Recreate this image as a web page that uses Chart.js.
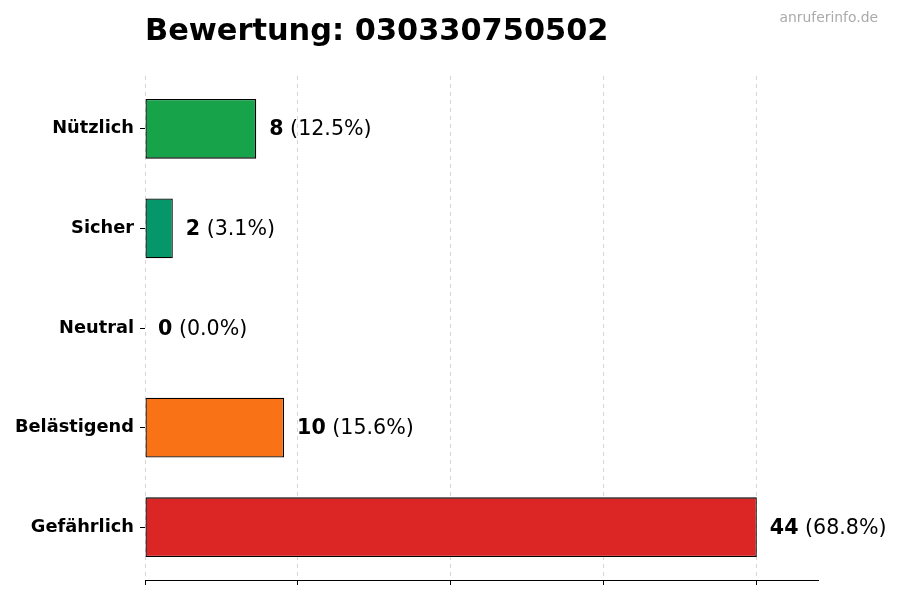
<!DOCTYPE html>
<html>
<head>
<meta charset="utf-8">
<script src="https://cdn.jsdelivr.net/npm/chart.js@4"></script>
<style>
  body { margin: 0; background: #fff; }
  #wrap { width: 900px; height: 600px; }
</style>
</head>
<body>
<div id="wrap"><canvas id="chart" width="900" height="600"></canvas></div>
<script>
const categories = ["Nützlich", "Sicher", "Neutral", "Belästigend", "Gefährlich"];
const counts = [8, 2, 0, 10, 44];
const barColors = ["#16a34a", "#059669", "#6b7280", "#f97316", "#dc2626"];
const xTicks = [0, 11, 22, 33, 44];
const titleText = "Bewertung: 030330750502";
const watermark = "anruferinfo.de";

const total = counts.reduce((a, b) => a + b, 0);
const font = "DejaVu Sans";

// title, watermark and the "n (x%)" labels next to the bars
const textPlugin = {
  id: "texts",
  afterDatasetsDraw(chart) {
    const ctx = chart.ctx;
    const xs = chart.scales.x;
    const ys = chart.scales.y;
    ctx.save();

    ctx.fillStyle = "#000";
    ctx.font = "bold 30.4px " + font;
    ctx.textAlign = "left";
    ctx.textBaseline = "alphabetic";
    ctx.fillText(titleText, chart.chartArea.left, 40);

    ctx.fillStyle = "#aaaaaa";
    ctx.font = "13.9px " + font;
    ctx.textAlign = "right";
    ctx.fillText(watermark, 878, 22);

    ctx.textAlign = "left";
    ctx.fillStyle = "#000";
    counts.forEach((v, i) => {
      const x = xs.getPixelForValue(v) + 13;
      const y = ys.getPixelForValue(i) + 6.5;
      ctx.font = "bold 20.6px " + font;
      const num = String(v);
      ctx.fillText(num, x, y);
      const w = ctx.measureText(num).width;
      ctx.font = "20.6px " + font;
      ctx.fillText(" (" + (v / total * 100).toFixed(1) + "%)", x + w, y);
    });
    ctx.restore();
  }
};

const ctx = document.getElementById("chart").getContext("2d");
new Chart(ctx, {
  type: "bar",
  data: {
    datasets: [{
      data: counts.map((v, i) => ({ x: v, y: i })),
      backgroundColor: barColors,
      borderColor: "#000",
      borderWidth: 1.3,
      borderSkipped: false,
      barPercentage: 0.6,
      categoryPercentage: 1
    }]
  },
  options: {
    indexAxis: "y",
    responsive: false,
    animation: false,
    layout: { padding: { top: 76, right: 82, left: 0, bottom: 0 } },
    plugins: {
      legend: { display: false },
      tooltip: { enabled: false },
      title: { display: false }
    },
    scales: {
      x: {
        type: "linear",
        min: 0,
        max: 48.4,
        afterBuildTicks: (s) => { s.ticks = xTicks.map(v => ({ value: v })); },
        afterFit: (s) => { s.height = 20; },
        ticks: { display: false },
        grid: {
          color: "#d6d6d6",
          lineWidth: 1,
          drawTicks: true,
          tickLength: 5,
          tickColor: "#000",
          tickWidth: 1
        },
        border: { display: true, color: "#000", width: 1, dash: [4, 4] }
      },
      y: {
        type: "linear",
        reverse: true,
        offset: false,
        min: -0.53,
        max: 4.53,
        afterBuildTicks: (s) => { s.ticks = categories.map((c, i) => ({ value: i })); },
        afterFit: (s) => { s.width = 145; },
        ticks: {
          callback: (v) => categories[v],
          color: "#000",
          font: { family: font, size: 17.8, weight: "bold" },
          padding: 6
        },
        grid: {
          offset: false,
          drawOnChartArea: false,
          drawTicks: true,
          tickLength: 5,
          tickColor: "#000"
        },
        border: { display: false }
      }
    }
  },
  plugins: [textPlugin]
});
</script>
</body>
</html>
